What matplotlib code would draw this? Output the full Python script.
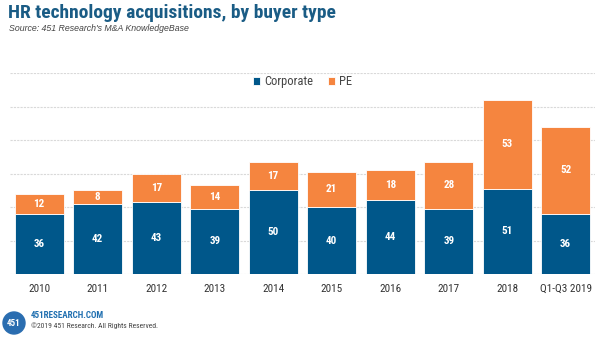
import matplotlib.pyplot as plt
from matplotlib.patches import Ellipse

years = ["2010", "2011", "2012", "2013", "2014", "2015", "2016", "2017", "2018", "Q1-Q3 2019"]
corporate = [36, 42, 43, 39, 50, 40, 44, 39, 51, 36]
pe = [12, 8, 17, 14, 17, 21, 18, 28, 53, 52]

blue = "#00578a"
orange = "#f5853f"
cond = ["Roboto Condensed", "DejaVu Sans"]

fig = plt.figure(figsize=(6, 3.4), dpi=100)
ax = fig.add_axes([10 / 600, 1 - 274 / 340, 585 / 600, 201 / 340])

x = range(len(years))
ax.bar(x, corporate, width=0.83, color=blue, edgecolor="white", linewidth=0.6, label="Corporate")
ax.bar(x, pe, width=0.83, bottom=corporate, color=orange, edgecolor="white", linewidth=0.6, label="PE")

for i in x:
    ax.text(i, corporate[i] / 2, str(corporate[i]), ha="center", va="center",
            color="white", fontsize=8, fontweight="bold", family=cond)
    ax.text(i, corporate[i] + pe[i] / 2, str(pe[i]), ha="center", va="center",
            color="white", fontsize=8, fontweight="bold", family=cond)

ax.set_xlim(-0.5, len(years) - 0.5)
ax.set_ylim(0, 120)
ax.set_yticks(range(0, 121, 20))
ax.yaxis.grid(True, color="#d9d9d9", linestyle=(0, (2, 1)), linewidth=0.8)
ax.set_axisbelow(True)
ax.tick_params(axis="y", left=False, labelleft=False)
ax.tick_params(axis="x", length=0, pad=7, labelsize=8, labelcolor="#333333")
ax.set_xticks(list(x))
ax.set_xticklabels(years, family=cond)
for s in ax.spines.values():
    s.set_visible(False)

leg = ax.legend(loc="upper center", bbox_to_anchor=(0.5, 1.045), ncol=2, frameon=False,
                handlelength=0.6, handleheight=0.6, handletextpad=0.3, columnspacing=1.2,
                prop={"family": cond, "size": 9})
for t in leg.get_texts():
    t.set_color("#444444")

fig.text(0.013, 0.962, "HR technology acquisitions, by buyer type", fontsize=14, fontweight="bold",
         color="#1a5c85", family=cond, va="center")
fig.text(0.015, 0.917, "Source: 451 Research's M&A KnowledgeBase", fontsize=6.3, style="italic",
         color="#444444", va="center", family="Liberation Sans")

fig.patches.append(Ellipse((14 / 600, 1 - 323 / 340), 22 / 600, 22 / 340, transform=fig.transFigure,
                           color="#2a6db0", zorder=5))
fig.text(14 / 600, 1 - 323 / 340, "451", color="white", fontsize=6.5, fontweight="bold",
         ha="center", va="center", zorder=6, family=cond)
fig.text(31 / 600, 1 - 316 / 340, "451RESEARCH.COM", fontsize=6.5, fontweight="bold",
         color="#1f6fb0", va="center", family=cond)
fig.text(31 / 600, 1 - 326 / 340, "\u00a92019 451 Research. All Rights Reserved.", fontsize=5.5,
         color="#444444", va="center", family=cond)

fig.savefig("out.png", dpi=100)
